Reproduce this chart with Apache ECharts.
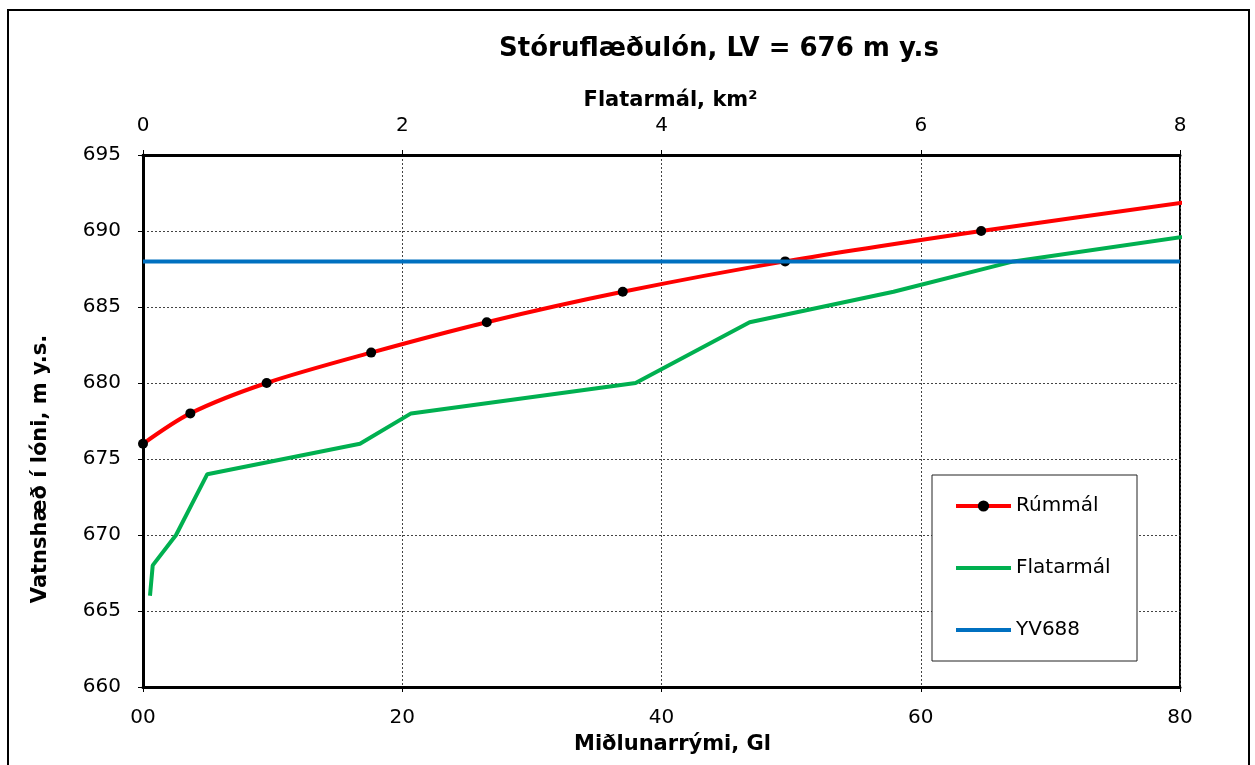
<!DOCTYPE html>
<html>
<head>
<meta charset="utf-8">
<script src="https://cdn.jsdelivr.net/npm/echarts@6/dist/echarts.min.js"></script>
<style>
html,body{margin:0;padding:0;background:#fff;}
#chart{width:1255px;height:765px;}
</style>
</head>
<body>
<div id="chart"></div>
<script>
// ---- Data ----
const titleText = 'Stóruflæðulón, LV = 676 m y.s';
const volumeGl = [0, 3.65, 9.54, 17.6, 26.52, 37.01, 49.54, 64.66, 81.3];
const volumeLevel = [676, 678, 680, 682, 684, 686, 688, 690, 692];
const areaKm2 = [0.054, 0.075, 0.255, 0.375, 0.496, 1.674, 2.068, 3.80, 4.68, 5.79, 6.715, 8.33];
const areaLevel = [666, 668, 670, 672, 674, 676, 678, 680, 684, 686, 688, 690];
const yv688X = [0, 80];
const yv688Level = [688, 688];
const seriesNames = ['Rúmmál', 'Flatarmál', 'YV688'];
const yTicks = [660, 665, 670, 675, 680, 685, 690, 695];
const xBottomTicks = [0, 20, 40, 60, 80];
const xTopTicks = [0, 2, 4, 6, 8];

const FONT = 'DejaVu Sans, Verdana, sans-serif';
const chart = echarts.init(document.getElementById('chart'));

const volData = volumeGl.map((x, i) => {
  const item = { value: [x, volumeLevel[i]] };
  if (i === volumeGl.length - 1) item.symbol = 'none';
  return item;
});
const areaData = areaKm2.map((x, i) => [x, areaLevel[i]]);
const yvData = yv688X.map((x, i) => [x, yv688Level[i]]);

const option = {
  backgroundColor: '#fff',
  animation: false,
  title: {
    text: titleText,
    left: 714, textAlign: 'center', top: 31,
    textStyle: { fontFamily: FONT, fontSize: 26, fontWeight: 'bold', color: '#000' }
  },
  graphic: [
    { type: 'rect', shape: { x: 8, y: 10, width: 1241, height: 770 }, style: { fill: 'none', stroke: '#000', lineWidth: 2 }, z: 0 },
    { type: 'rect', shape: { x: 932, y: 475, width: 205, height: 186 }, style: { fill: '#fff', stroke: '#222', lineWidth: 1 }, z: 5 }
  ],
  legend: {
    orient: 'vertical',
    left: 954, top: 496,
    itemWidth: 55, itemHeight: 14, itemGap: 42,
    padding: 0,
    z: 10,
    lineStyle: { width: 4 },
    data: [
      { name: seriesNames[0] },
      { name: seriesNames[1], itemStyle: { opacity: 0 } },
      { name: seriesNames[2], itemStyle: { opacity: 0 } }
    ],
    textStyle: { fontFamily: FONT, fontSize: 20, color: '#000' }
  },
  grid: {
    left: 143, right: 75, top: 155, bottom: 78,
    show: true, borderColor: '#000', borderWidth: 2, backgroundColor: 'transparent'
  },
  xAxis: [
    {
      type: 'value', position: 'bottom', min: xBottomTicks[0], max: xBottomTicks[xBottomTicks.length - 1], interval: 20,
      name: 'Miðlunarrými, Gl', nameLocation: 'middle', nameGap: 47,
      nameTextStyle: { fontFamily: FONT, fontSize: 21, fontWeight: 'bold', color: '#000', padding: [0, 0, 0, 22] },
      axisLine: { lineStyle: { color: '#000', width: 3 } },
      axisTick: { show: true, length: 5, lineStyle: { color: '#000' } },
      axisLabel: { fontFamily: FONT, fontSize: 20, color: '#000', margin: 21, formatter: v => v === 0 ? '00' : String(v) },
      splitLine: { show: true, lineStyle: { color: '#444', type: [2, 2], width: 1 } }
    },
    {
      type: 'value', position: 'top', min: xTopTicks[0], max: xTopTicks[xTopTicks.length - 1], interval: 2,
      name: 'Flatarmál, km²', nameLocation: 'middle', nameGap: 43,
      nameTextStyle: { fontFamily: FONT, fontSize: 21, fontWeight: 'bold', color: '#000', padding: [0, 0, 0, 18] },
      axisLine: { lineStyle: { color: '#000', width: 3 } },
      axisTick: { show: true, length: 5, lineStyle: { color: '#000' } },
      axisLabel: { fontFamily: FONT, fontSize: 20, color: '#000', margin: 19 },
      splitLine: { show: false }
    }
  ],
  yAxis: {
    type: 'value', min: yTicks[0], max: yTicks[yTicks.length - 1], interval: 5,
    name: 'Vatnshæð í lóni, m y.s.', nameLocation: 'middle', nameGap: 92, nameRotate: 90,
    nameTextStyle: { fontFamily: FONT, fontSize: 21, fontWeight: 'bold', color: '#000', padding: [0, 96, 0, 0] },
    axisLine: { show: true, lineStyle: { color: '#000', width: 3 } },
    axisTick: { show: true, length: 5, lineStyle: { color: '#000' } },
    axisLabel: { fontFamily: FONT, fontSize: 20, color: '#000', margin: 22 },
    splitLine: { show: true, lineStyle: { color: '#444', type: [2, 2], width: 1 } }
  },
  series: [
    {
      name: seriesNames[0], type: 'line', xAxisIndex: 0, data: volData,
      smooth: 0.3, clip: true,
      symbol: 'circle', symbolSize: 10,
      lineStyle: { color: '#FF0000', width: 4 },
      itemStyle: { color: '#000', borderWidth: 0 },
      color: '#FF0000', z: 2
    },
    {
      name: seriesNames[1], type: 'line', xAxisIndex: 1, data: areaData,
      smooth: false, clip: true, symbol: 'none', showSymbol: false,
      lineStyle: { color: '#00B050', width: 4 },
      itemStyle: { color: '#00B050' },
      color: '#00B050', z: 3
    },
    {
      name: seriesNames[2], type: 'line', xAxisIndex: 0, data: yvData,
      symbol: 'none', showSymbol: false,
      lineStyle: { color: '#0070C0', width: 4 },
      itemStyle: { color: '#0070C0' },
      color: '#0070C0', z: 4
    }
  ]
};
chart.setOption(option);
</script>
</body>
</html>
